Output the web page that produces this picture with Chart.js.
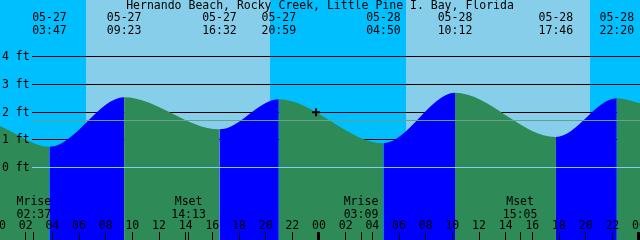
<!DOCTYPE html>
<html>
<head>
<meta charset="utf-8">
<style>
  html, body { margin: 0; padding: 0; background: #fff; overflow: hidden; }
</style>
</head>
<body>
<canvas id="tideChart" width="640" height="240"></canvas>
<script src="https://cdn.jsdelivr.net/npm/chart.js@4/dist/chart.umd.min.js"></script>
<script>
// hours counted from 05-27 00:00
const tideHours = [0.075, 3.783, 9.383, 16.533, 20.983, 28.833, 34.2, 41.767, 46.333, 48.075];
const tideFeet = [1.48, 0.73, 2.52, 1.36, 2.45, 0.86, 2.68, 1.08, 2.48, 2.30];
const tideDates = ["", "05-27", "05-27", "05-27", "05-27", "05-28", "05-28", "05-28", "05-28", ""];
const tideTimes = ["", "03:47", "09:23", "16:32", "20:59", "04:50", "10:12", "17:46", "22:20", ""];

const dayStart = [6.53, 30.53];
const dayEnd = [20.33, 44.33];

const moonHours = [2.617, 14.217, 27.15, 39.083];
const moonNames = ["Mrise", "Mset", "Mrise", "Mset"];
const moonTimes = ["02:37", "14:13", "03:09", "15:05"];

const hourTicks = [0, 2, 4, 6, 8, 10, 12, 14, 16, 18, 20, 22, 24, 26, 28, 30, 32, 34, 36, 38, 40, 42, 44, 46, 48];
const hourLabels = ["00", "02", "04", "06", "08", "10", "12", "14", "16", "18", "20", "22",
                    "00", "02", "04", "06", "08", "10", "12", "14", "16", "18", "20", "22", "00"];

const feetTicks = [0, 1, 2, 3, 4];
const feetLabels = ["0 ft", "1 ft", "2 ft", "3 ft", "4 ft"];
const meanFeet = 1.69;

const nowHour = 23.78;
const nowFeet = 1.98;

const title = "Hernando Beach, Rocky Creek, Little Pine I. Bay, Florida";
const FONT = "11.5px 'DejaVu Sans Mono', monospace";

const tideDecor = {
    id: "tideDecor",
    beforeDatasetsDraw(chart) {
        const { ctx, chartArea: a, scales: { x, y } } = chart;
        ctx.save();
        // night sky, then daylight bands
        ctx.fillStyle = "#00bfff";
        ctx.fillRect(a.left, a.top, a.width, a.height);
        ctx.fillStyle = "#87ceeb";
        dayStart.forEach((s, i) => {
            const x0 = Math.round(x.getPixelForValue(s));
            const x1 = Math.round(x.getPixelForValue(dayEnd[i]));
            ctx.fillRect(x0, a.top, x1 - x0, a.height);
        });
        // black level lines (hidden under the water)
        ctx.strokeStyle = "#000";
        ctx.lineWidth = 1;
        feetTicks.forEach(f => {
            if (f === 0) return;
            const py = Math.round(y.getPixelForValue(f)) + 0.5;
            ctx.beginPath();
            ctx.moveTo(32, py);
            ctx.lineTo(a.right, py);
            ctx.stroke();
        });
        ctx.restore();
    },
    afterDatasetsDraw(chart) {
        const { ctx, chartArea: a, scales: { x, y } } = chart;
        ctx.save();

        // 0 ft line and mean level line
        let py = Math.round(y.getPixelForValue(0)) + 0.5;
        ctx.strokeStyle = "#87ceeb";
        ctx.beginPath(); ctx.moveTo(32, py); ctx.lineTo(a.right, py); ctx.stroke();
        py = Math.round(y.getPixelForValue(meanFeet)) + 0.5;
        ctx.strokeStyle = "#66a38c";
        ctx.beginPath(); ctx.moveTo(32, py); ctx.lineTo(a.right, py); ctx.stroke();

        ctx.font = FONT;
        ctx.fillStyle = "#000";
        ctx.textBaseline = "alphabetic";

        // feet labels
        ctx.textAlign = "left";
        feetTicks.forEach((f, i) => {
            ctx.fillText(feetLabels[i], 2, Math.round(y.getPixelForValue(f)) + 4);
        });

        // title and tide times
        ctx.textAlign = "center";
        ctx.fillText(title, 320, 9);
        tideHours.forEach((h, i) => {
            if (!tideDates[i]) return;
            const px = x.getPixelForValue(h);
            ctx.fillText(tideDates[i], px, 21);
            ctx.fillText(tideTimes[i], px, 34);
        });

        // moon rise / set
        moonHours.forEach((h, i) => {
            const px = x.getPixelForValue(h);
            ctx.fillText(moonNames[i], px, 205);
            ctx.fillText(moonTimes[i], px, 218);
            ctx.fillRect(Math.floor(px), 232, 1, 8);
        });

        // hour ticks
        hourTicks.forEach((h, i) => {
            const px = x.getPixelForValue(h);
            ctx.fillText(hourLabels[i], px, 229);
            if (h % 24 === 0) {
                ctx.fillRect(Math.floor(px) - 2, 232, 3, 8);
            } else {
                ctx.fillRect(Math.floor(px), 232, 1, 8);
            }
        });

        ctx.restore();
    }
};

new Chart("tideChart", {
    type: "line",
    data: {
        datasets: [{
            data: tideHours.map((h, i) => ({ x: h, y: tideFeet[i] })),
            fill: "start",
            backgroundColor: "#2e8b57",
            borderWidth: 0,
            pointRadius: 0,
            cubicInterpolationMode: "monotone",
            segment: {
                backgroundColor: c => c.p1.parsed.y > c.p0.parsed.y ? "#0000ff" : "#2e8b57"
            },
            order: 1
        }, {
            type: "scatter",
            data: [{ x: nowHour, y: nowFeet }],
            pointStyle: "cross",
            pointRadius: 4,
            borderColor: "#000",
            borderWidth: 2,
            order: 0
        }]
    },
    options: {
        responsive: false,
        animation: false,
        devicePixelRatio: 1,
        layout: { padding: 0, autoPadding: false },
        plugins: {
            legend: { display: false },
            tooltip: { enabled: false }
        },
        scales: {
            x: { type: "linear", min: 0.075, max: 48.075, display: false },
            y: { min: -2.635, max: 6.029, display: false }
        }
    },
    plugins: [tideDecor]
});
</script>
</body>
</html>
